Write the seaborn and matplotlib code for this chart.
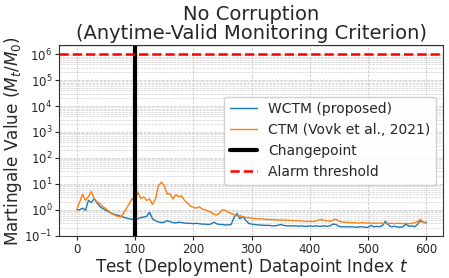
import numpy as np
import pandas as pd
import matplotlib
matplotlib.use("Agg")
import matplotlib.pyplot as plt
import matplotlib.ticker as mticker
import seaborn as sns

t = list(range(0, 601, 5))
ctm = [1.0, 2.0, 4.0, 2.3, 3.2, 5.0, 2.6, 2.0, 1.7, 1.3, 1.1, 0.85, 0.72, 0.62, 0.56, 0.53,
       0.7, 1.1, 1.7, 2.7, 2.2, 4.8, 2.7, 3.1, 2.3, 2.6, 1.6, 2.5, 8.0, 11.5, 9.0, 4.0, 4.2,
       2.6, 3.8, 3.2, 3.4, 2.3, 1.8, 1.4, 1.25, 1.15, 1.3, 1.1, 1.0, 0.9, 0.8, 0.68, 0.62,
       0.75, 1.0, 0.95, 0.8, 0.72, 0.65, 0.6, 0.58, 0.55, 0.5, 0.5, 0.47, 0.46, 0.45, 0.44,
       0.44, 0.42, 0.42, 0.41, 0.41, 0.40, 0.40, 0.40, 0.39, 0.39, 0.38, 0.38, 0.37, 0.37,
       0.36, 0.35, 0.36, 0.35, 0.36, 0.40, 0.42, 0.38, 0.37, 0.36, 0.40, 0.43, 0.36, 0.34,
       0.33, 0.33, 0.32, 0.32, 0.31, 0.31, 0.32, 0.31, 0.30, 0.31, 0.30, 0.30, 0.31, 0.30,
       0.29, 0.30, 0.30, 0.29, 0.30, 0.30, 0.29, 0.30, 0.29, 0.30, 0.31, 0.35, 0.42, 0.33, 0.30]
wctm = [1.0, 1.0, 1.15, 0.95, 2.3, 1.9, 2.7, 1.8, 1.3, 1.1, 0.95, 0.82, 0.72, 0.66, 0.62,
        0.56, 0.52, 0.48, 0.45, 0.43, 0.42, 0.45, 0.5, 0.52, 0.55, 0.8, 0.45, 0.38, 0.34,
        0.32, 0.33, 0.38, 0.35, 0.32, 0.31, 0.33, 0.32, 0.31, 0.30, 0.30, 0.29, 0.30, 0.29,
        0.28, 0.28, 0.27, 0.28, 0.33, 0.29, 0.27, 0.27, 0.26, 0.26, 0.27, 0.5, 0.72, 0.45,
        0.55, 0.4, 0.3, 0.28, 0.27, 0.26, 0.26, 0.25, 0.25, 0.25, 0.24, 0.24, 0.25, 0.27,
        0.25, 0.24, 0.24, 0.24, 0.24, 0.23, 0.24, 0.23, 0.23, 0.24, 0.23, 0.24, 0.23, 0.23,
        0.24, 0.23, 0.24, 0.28, 0.27, 0.23, 0.22, 0.22, 0.22, 0.22, 0.22, 0.21, 0.22, 0.22,
        0.21, 0.21, 0.25, 0.22, 0.23, 0.22, 0.25, 0.36, 0.26, 0.22, 0.23, 0.22, 0.21, 0.22,
        0.28, 0.23, 0.24, 0.22, 0.27, 0.38, 0.32, 0.33]
changepoint = 100
threshold = 1e6

sns.set_style("ticks")
plt.rcParams['font.family'] = ['DejaVu Sans']

fig, ax = plt.subplots(figsize=(4.49, 2.78), dpi=100)
fig.subplots_adjust(left=0.132, right=0.987, top=0.838, bottom=0.151)

sns.lineplot(x=t, y=wctm, ax=ax, color='tab:blue', lw=1.0, label='WCTM (proposed)')
sns.lineplot(x=t, y=ctm, ax=ax, color='tab:orange', lw=1.0, label='CTM (Vovk et al., 2021)')
ax.axvline(changepoint, color='black', lw=3, label='Changepoint')
ax.axhline(threshold, color='red', ls='--', lw=1.8, label='Alarm threshold')
ax.set_yscale('log')
ax.set_ylim(0.097, 2.25e6)
ax.set_xlim(-30, 629)
ax.yaxis.set_major_locator(mticker.LogLocator(base=10, numticks=20))
ax.yaxis.set_minor_locator(mticker.LogLocator(base=10, subs=np.arange(2, 10), numticks=100))
ax.yaxis.set_minor_formatter(mticker.NullFormatter())
ax.grid(True, which='major', ls='--', lw=0.6, color='#cccccc')
ax.grid(True, which='minor', axis='y', ls='--', lw=0.5, color='#d0d0d0')
ax.tick_params(axis='y', which='minor', length=0)
ax.tick_params(axis='both', which='major', labelsize=8.5, pad=2, length=3)
ax.set_xticks([0, 100, 200, 300, 400, 500, 600])
ax.set_title('No Corruption\n(Anytime-Valid Monitoring Criterion)', fontsize=14, linespacing=1.0, pad=4)
ax.set_xlabel('Test (Deployment) Datapoint Index $t$', fontsize=12.2, labelpad=0)
ax.set_ylabel('Martingale Value ($M_t/M_0$)', fontsize=12.2, labelpad=0)
for s in ax.spines.values():
    s.set_color('#333333')
ax.legend(loc='center right', fontsize=10, framealpha=0.9)
fig.savefig('out.png', dpi=100)
